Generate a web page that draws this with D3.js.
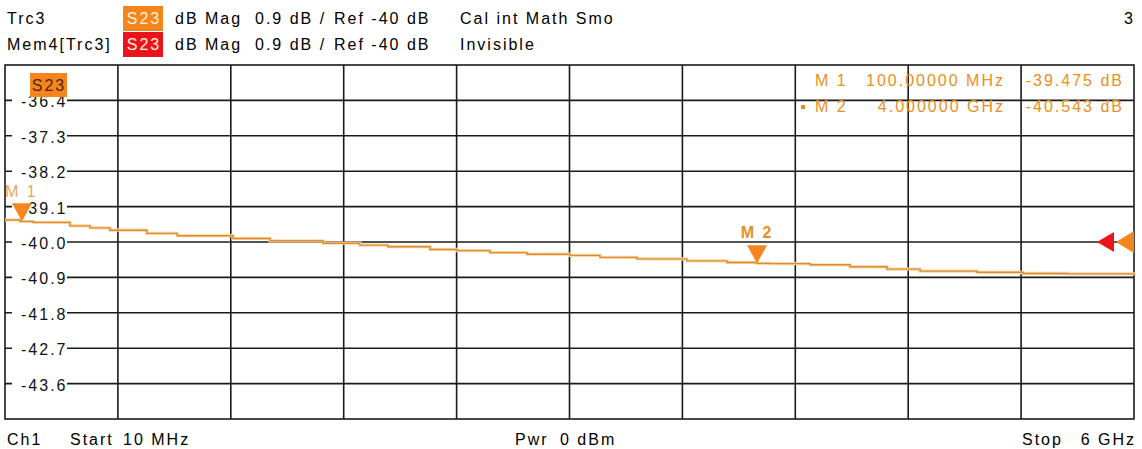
<!DOCTYPE html>
<html>
<head>
<meta charset="utf-8">
<script src="https://cdn.jsdelivr.net/npm/d3@7"></script>
<style>
  body { margin: 0; background: #fff; }
  svg { display: block; font-family: "Liberation Sans", Arial, sans-serif; }
  text { font-size: 16px; letter-spacing: 2px; }
</style>
</head>
<body>
<svg id="chart" width="1142" height="449"></svg>
<script>
// Sweep data (frequency in MHz, magnitude in dB)
var freqMHz = [10, 90, 159, 355, 461, 567, 763, 923, 1220, 1416, 1697, 1893, 2042, 2265, 2408, 2583,
               2780, 3008, 3167, 3363, 3628, 3841, 4000, 4069, 4281, 4493, 4690, 4865, 5167, 5411, 5645, 6000];
var magDb = [-39.44, -39.475, -39.50, -39.59, -39.64, -39.70, -39.78, -39.84, -39.91, -39.97, -40.03, -40.08,
             -40.12, -40.19, -40.22, -40.27, -40.31, -40.34, -40.39, -40.43, -40.48, -40.52, -40.543, -40.55,
             -40.58, -40.63, -40.69, -40.74, -40.77, -40.80, -40.81, -40.84];

// Axis setup
var startMHz = 10;
var stopMHz = 6000;
var refDb = -40;
var dbPerDiv = 0.9;
var yTickLabels = ["-36.4", "-37.3", "-38.2", "-39.1", "-40.0", "-40.9", "-41.8", "-42.7", "-43.6"];

// Markers
var markerNames = ["M 1", "M 2"];
var markerFreq = [100, 4000];
var markerVal = [-39.475, -40.543];
var markerFreqText = ["100.00000 MHz", "4.000000 GHz"];
var markerValText = ["-39.475 dB", "-40.543 dB"];

var plotLeft = 5, plotRight = 1134, plotTop = 65, plotBottom = 419;
var orange = "#f5861f";
var markerText = "#ea8e24";

var svg = d3.select('#chart');

var x = d3.scaleLinear().domain([startMHz, stopMHz]).range([plotLeft, plotRight]);
var y = d3.scaleLinear().domain([refDb - 5 * dbPerDiv, refDb + 5 * dbPerDiv]).range([plotBottom, plotTop]);

// Header
function header(row, name, boxColor, extra) {
  var base = 24 + row * 26;
  svg.append("text").attr("x", 7).attr("y", base).text(name);
  svg.append("rect").attr("x", 123).attr("y", base - 18).attr("width", 40).attr("height", 25).attr("fill", boxColor);
  svg.append("text").attr("x", 144).attr("y", base).attr("fill", "#fff3d0")
     .attr("text-anchor", "middle").text("S23");
  svg.append("text").attr("x", 175).attr("y", base).text("dB Mag");
  svg.append("text").attr("x", 255).attr("y", base).text("0.9 dB /");
  svg.append("text").attr("x", 334).attr("y", base).text("Ref -40 dB");
  svg.append("text").attr("x", 460).attr("y", base).text(extra);
}
header(0, "Trc3", orange, "Cal int Math Smo");
header(1, "Mem4[Trc3]", "#e8161c", "Invisible");
svg.append("text").attr("x", 1135).attr("y", 24).attr("text-anchor", "end").text("3");

// Grid
var xGrid = d3.range(1, 10).map(function(i) { return startMHz + i * (stopMHz - startMHz) / 10; });
var yGrid = d3.range(1, 10).map(function(i) { return refDb + 5 * dbPerDiv - i * dbPerDiv; });

svg.selectAll(".vgrid").data(xGrid).enter().append("line")
   .attr("x1", function(d) { return x(d); }).attr("x2", function(d) { return x(d); })
   .attr("y1", plotTop).attr("y2", plotBottom)
   .attr("stroke", "#1a1a1a").attr("stroke-width", 1.6);

svg.selectAll(".hgrid").data(yGrid).enter().append("line")
   .attr("x1", plotLeft).attr("x2", plotRight)
   .attr("y1", function(d) { return y(d); }).attr("y2", function(d) { return y(d); })
   .attr("stroke", "#1a1a1a").attr("stroke-width", 1.6);

// Y labels with white background
var lab = svg.selectAll(".ylab").data(yGrid).enter().append("g")
   .attr("transform", function(d) { return "translate(0," + y(d) + ")"; });
lab.append("rect").attr("x", 12).attr("y", -9).attr("width", 55).attr("height", 18).attr("fill", "#fff");
lab.append("text").attr("x", 21).attr("y", 7).attr("fill", "#111")
   .text(function(d, i) { return yTickLabels[i]; });

// Frame
svg.append("rect").attr("x", plotLeft).attr("y", plotTop)
   .attr("width", plotRight - plotLeft).attr("height", plotBottom - plotTop)
   .attr("fill", "none").attr("stroke", "#1a1a1a").attr("stroke-width", 1.6);

// Trace tag
svg.append("rect").attr("x", 30).attr("y", 73).attr("width", 37).attr("height", 24).attr("fill", orange);
svg.append("text").attr("x", 49).attr("y", 91).attr("fill", "#5a2000")
   .attr("text-anchor", "middle").text("S23");

// Trace
var line = d3.line()
   .x(function(d, i) { return x(freqMHz[i]); })
   .y(function(d) { return y(d); })
   .curve(d3.curveStepAfter);
svg.append("path").datum(magDb).attr("d", line)
   .attr("fill", "none").attr("stroke", "#fbd9a6").attr("stroke-width", 3.2);
svg.append("path").datum(magDb).attr("d", line)
   .attr("fill", "none").attr("stroke", "#dc8a34").attr("stroke-width", 1.4);

// Marker triangles on trace
markerFreq.forEach(function(f, i) {
  var mx = x(f), my = y(markerVal[i]);
  svg.append("path")
     .attr("d", "M" + (mx - 10) + "," + (my - 18) + "L" + (mx + 10) + "," + (my - 18) + "L" + mx + "," + my + "Z")
     .attr("fill", orange);
});
svg.append("text").attr("x", 5).attr("y", 197).attr("fill", "#eba55a").text(markerNames[0]);
svg.append("text").attr("x", x(markerFreq[1])).attr("y", 238).attr("font-weight", "bold")
   .attr("text-anchor", "middle").attr("fill", markerText).text(markerNames[1]);

// Ref level arrows
var ry = y(refDb);
svg.append("path").attr("d", "M1097," + ry + "L1114," + (ry - 10) + "L1114," + (ry + 10) + "Z").attr("fill", "#e8161c");
svg.append("path").attr("d", "M1116," + ry + "L1134," + (ry - 11) + "L1134," + (ry + 11) + "Z").attr("fill", orange);

// Marker info table
markerNames.forEach(function(n, i) {
  var base = 86 + i * 26;
  svg.append("text").attr("x", 815).attr("y", base).attr("fill", markerText).text(n);
  svg.append("text").attr("x", 1005).attr("y", base).attr("fill", markerText)
     .attr("text-anchor", "end").text(markerFreqText[i]);
  svg.append("text").attr("x", 1124).attr("y", base).attr("fill", markerText)
     .attr("text-anchor", "end").text(markerValText[i]);
});
svg.append("rect").attr("x", 801).attr("y", 105).attr("width", 4).attr("height", 4).attr("fill", markerText);

// Footer
svg.append("text").attr("x", 7).attr("y", 445).text("Ch1");
svg.append("text").attr("x", 70).attr("y", 445).text("Start");
svg.append("text").attr("x", 123).attr("y", 445).text("10 MHz");
svg.append("text").attr("x", 515).attr("y", 445).text("Pwr");
svg.append("text").attr("x", 560).attr("y", 445).text("0 dBm");
svg.append("text").attr("x", 1022).attr("y", 445).text("Stop");
svg.append("text").attr("x", 1136).attr("y", 445).attr("text-anchor", "end").text("6 GHz");
</script>
</body>
</html>
